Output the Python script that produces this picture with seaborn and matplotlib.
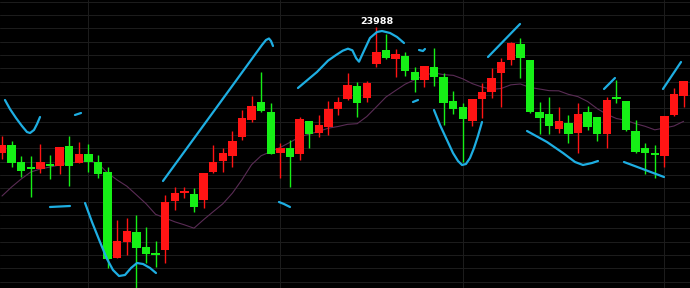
import numpy as np
import pandas as pd
import matplotlib
matplotlib.use("Agg")
import matplotlib.pyplot as plt
import seaborn as sns

# ---- data ----
opens = [23232, 23280, 23178, 23148, 23136, 23166, 23154, 23274, 23172, 23226,
         23178, 23118, 22602, 22698, 22758, 22668, 22632, 22650, 22944, 22992,
         22986, 22950, 23118, 23184, 23214, 23328, 23430, 23538, 23478, 23232,
         23262, 23226, 23424, 23352, 23388, 23496, 23556, 23634, 23562, 23766,
         23850, 23796, 23814, 23718, 23670, 23748, 23688, 23544, 23508, 23424,
         23556, 23598, 23712, 23790, 23886, 23790, 23478, 23466, 23376, 23412,
         23352, 23478, 23448, 23346, 23568, 23544, 23364, 23262, 23232, 23214,
         23460, 23574]
highs = [23334, 23304, 23214, 23214, 23286, 23220, 23268, 23334, 23298, 23286,
         23220, 23148, 22830, 22842, 22860, 22788, 22704, 22980, 23028, 23028,
         23022, 23112, 23280, 23262, 23364, 23490, 23574, 23718, 23532, 23292,
         23310, 23448, 23424, 23460, 23544, 23568, 23712, 23658, 23664, 23988,
         23946, 23856, 23838, 23748, 23754, 23862, 23712, 23604, 23532, 23556,
         23652, 23742, 23802, 23898, 23922, 23790, 23538, 23568, 23508, 23460,
         23532, 23514, 23448, 23568, 23670, 23544, 23430, 23292, 23280, 23454,
         23622, 23664]
lows = [23196, 23148, 23088, 22968, 23112, 23076, 23106, 23034, 23172, 23118,
        23082, 22542, 22602, 22620, 22398, 22572, 22548, 22572, 22890, 22962,
        22878, 22902, 23112, 23118, 23148, 23310, 23418, 23478, 23226, 23082,
        23028, 23190, 23262, 23328, 23340, 23460, 23550, 23448, 23538, 23748,
        23796, 23688, 23694, 23598, 23628, 23634, 23400, 23466, 23178, 23394,
        23442, 23562, 23508, 23760, 23682, 23472, 23346, 23346, 23352, 23292,
        23232, 23370, 23304, 23262, 23532, 23364, 23232, 23106, 23082, 23148,
        23454, 23508]
closes = [23280, 23172, 23124, 23136, 23178, 23154, 23268, 23154, 23226, 23178,
          23106, 22596, 22704, 22764, 22662, 22626, 22620, 22938, 22992, 22998,
          22908, 23112, 23178, 23232, 23304, 23442, 23514, 23484, 23226, 23262,
          23208, 23436, 23346, 23400, 23496, 23538, 23640, 23532, 23652, 23838,
          23802, 23826, 23724, 23670, 23754, 23688, 23532, 23496, 23436, 23556,
          23598, 23682, 23778, 23892, 23802, 23478, 23442, 23394, 23424, 23346,
          23466, 23388, 23346, 23550, 23556, 23370, 23238, 23232, 23220, 23454,
          23586, 23664]
ma10 = [22974, 23028, 23076, 23118, 23136, 23148, 23160, 23172, 23178, 23187,
        23170, 23112, 23070, 23033, 22981, 22928, 22864, 22842, 22819, 22801,
        22781, 22832, 22880, 22927, 22991, 23072, 23162, 23216, 23240, 23266,
        23296, 23329, 23345, 23362, 23381, 23391, 23404, 23408, 23451, 23509,
        23568, 23607, 23645, 23672, 23698, 23713, 23702, 23698, 23677, 23648,
        23628, 23614, 23619, 23641, 23646, 23625, 23616, 23606, 23605, 23584,
        23570, 23541, 23498, 23464, 23439, 23428, 23408, 23392, 23371, 23382,
        23394, 23422]
peak_label = "23988"
month_breaks = [9, 29, 48, 69]

# cyan wave segments: (bar position, price)
wave_segments = [
    [(0.31, 23550), (0.83, 23496), (1.46, 23442), (2.08, 23394), (2.60, 23358),
     (2.92, 23352), (3.33, 23370), (3.65, 23406), (3.96, 23448)],
    [(7.60, 23460), (8.23, 23472)],
    [(5.00, 22908), (7.08, 22914)],
    [(8.65, 22932), (9.375, 22818), (10.21, 22698), (10.94, 22596), (11.56, 22530),
     (12.19, 22494), (12.81, 22500), (13.44, 22542), (14.06, 22572), (14.69, 22566),
     (15.42, 22542), (16.04, 22512)],
    [(16.77, 23064), (23.75, 23616), (27.08, 23880), (27.5, 23910), (27.81, 23919),
     (28.02, 23904), (28.23, 23874)],
    [(28.85, 22938), (29.375, 22926), (30.0, 22908)],
    [(30.83, 23622), (32.81, 23718), (33.96, 23786), (34.80, 23820), (35.50, 23846),
     (36.04, 23858), (36.50, 23848), (36.90, 23800), (37.19, 23780), (37.60, 23832),
     (38.33, 23922), (39.06, 23958), (39.58, 23964), (40.42, 23952), (41.15, 23928),
     (41.875, 23892)],
    [(43.44, 23850), (43.85, 23844), (44.06, 23856)],
    [(42.81, 23538), (43.33, 23550)],
    [(45.0, 23490), (45.625, 23400), (46.35, 23310), (46.98, 23232), (47.5, 23184),
     (47.92, 23160), (48.33, 23166), (48.75, 23202), (49.17, 23262), (49.58, 23334),
     (50.0, 23418)],
    [(50.625, 23808), (53.96, 24006)],
    [(54.69, 23364), (56.77, 23298), (58.44, 23232), (59.69, 23178), (60.52, 23160),
     (61.46, 23172), (62.08, 23184)],
    [(62.71, 23616), (63.85, 23682)],
    [(64.79, 23178), (68.96, 23088)],
    [(68.85, 23616), (70.73, 23778)],
]

RED = "#ff1414"
GREEN = "#16f016"
CYAN = "#1eaee2"
MA_COLOR = "#5a2c55"
GRID = "#1c1c1c"

sns.set_theme(style="dark", rc={"axes.facecolor": "black", "figure.facecolor": "black"})
plt.rcParams["font.family"] = ["DejaVu Sans"]

fig = plt.figure(figsize=(6.9, 2.88), dpi=100)
ax = fig.add_axes([0, 0, 1, 1])
ax.set_facecolor("black")

df = pd.DataFrame({"idx": np.arange(len(opens)), "open": opens, "high": highs,
                   "low": lows, "close": closes, "ma": ma10})
up = df["close"] >= df["open"]
colors = np.where(up, RED, GREEN)

# grid
for yv in np.arange(24140, 22400, -80):
    ax.axhline(yv, color=GRID, lw=0.72, zorder=0)
for xv in month_breaks:
    ax.axvline(xv, color=GRID, lw=0.72, zorder=0)

# moving average
sns.lineplot(data=df, x="idx", y="ma", color=MA_COLOR, lw=0.8, ax=ax, zorder=1)

# candles
ax.vlines(df["idx"], df["low"], df["high"], colors=colors, lw=1.0, zorder=2)
body = (df["close"] - df["open"]).abs().clip(lower=10)
ax.bar(df["idx"], body, bottom=np.minimum(df["open"], df["close"]), width=0.88,
       color=colors, linewidth=0, zorder=3)

# cyan waves
for seg in wave_segments:
    xs, ys = zip(*seg)
    sns.lineplot(x=list(xs), y=list(ys), sort=False, estimator=None, color=CYAN,
                 lw=1.6, ax=ax, zorder=4)

peak_i = int(df["high"].idxmax())
ax.annotate(peak_label, (peak_i, df["high"].max()), xytext=(0, 2.2),
            textcoords="offset points", ha="center", va="baseline",
            color="white", fontsize=6.8, fontweight="bold", zorder=5)

ax.set_xlim(-0.208, 71.667)
ax.set_ylim(22422, 24150)
ax.set_xticks([])
ax.set_yticks([])
ax.set_xlabel("")
ax.set_ylabel("")
for s in ax.spines.values():
    s.set_visible(False)
ax.grid(False)

fig.savefig("out.png", dpi=100, facecolor="black")
